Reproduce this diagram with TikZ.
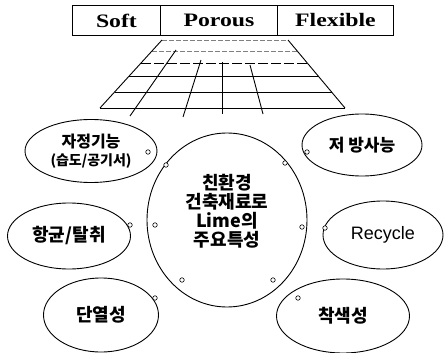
\documentclass[tikz,border=0pt]{standalone}
\usepackage{fontspec}
\usetikzlibrary{shapes.geometric}
\newfontfamily\kr{Noto Sans CJK KR}
\newfontfamily\boxfont{Liberation Serif}
\newfontfamily\lat{Liberation Sans}
\tikzset{
  topbox/.style={draw, line width=0.9pt, rectangle, minimum height=30pt, inner sep=0pt,
    font=\boxfont\bfseries\fontsize{19}{20}\selectfont, anchor=north west},
  oval/.style={draw, line width=0.9pt, ellipse, inner sep=0pt, align=center,
    font=\kr\bfseries\fontsize{18}{19}\selectfont},
  label/.style={inner sep=0pt, align=center, font=\kr\bfseries\fontsize{18}{19}\selectfont},
  dot/.style={draw, line width=0.6pt, circle, fill=white, minimum size=4.5pt, inner sep=0pt},
  gridline/.style={line width=0.9pt},
  faint/.style={line width=0.6pt, gray, dash pattern=on 5pt off 2pt}
}
\begin{document}
\begin{tikzpicture}[x=1pt,y=-1pt]
\useasboundingbox (0,0) rectangle (445,353);
% top boxes
\node[topbox, minimum width=88pt] (soft) at (72,5) {\scalebox{1.25}[1]{Soft}};
\node[topbox, minimum width=117pt] (porous) at (160,5) {\scalebox{1.25}[1]{Porous}};
\node[topbox, minimum width=116pt] (flex) at (277,5) {\scalebox{1.25}[1]{Flexible}};
% perspective grid
\draw[faint] (162,40) -- (288,40);
\draw[faint] (152,51) -- (297,51);
\draw[gridline, dash pattern=on 10pt off 3pt] (141,63) -- (308,63);
\draw[gridline] (129,76) -- (319,76);
\draw[gridline] (115,92) -- (332,92);
\draw[gridline] (100,108) -- (345,108);
\draw[gridline] (162,40) -- (100,108);
\draw[gridline] (288,40) -- (345,108);
\draw[gridline] (176,50) -- (130,116);
\draw[gridline] (201,60) -- (183,117);
\draw[gridline] (222,62) -- (222,114);
\draw[gridline] (250,65) -- (263,114);
% ellipses
\node[oval, minimum width=160pt, minimum height=174pt] (center) at (227,220) {};
\node[label] (ctext) at (227,211) {친환경\\건축재료로\\Lime의\\주요특성};
\node[oval, minimum width=132pt, minimum height=63pt, font=\kr\bfseries\fontsize{16}{18}\selectfont] (self) at (91,151)
  {자정기능\\{\fontsize{14}{15}\selectfont (습도/공기서)}};
\node[oval, minimum width=120pt, minimum height=62pt, font=\kr\bfseries\fontsize{17}{18}\selectfont] (rad) at (362,145) {저 방사능};
\node[oval, minimum width=123pt, minimum height=66pt] (anti) at (69,236) {항균/탈취};
\node[oval, minimum width=120pt, minimum height=68pt, font=\lat\fontsize{18}{19}\selectfont] (recy) at (383,235) {Recycle};
\node[oval, minimum width=115pt, minimum height=74pt] (insul) at (101,315) {단열성};
\node[oval, minimum width=133pt, minimum height=74pt] (color) at (343,316) {착색성};
% connector dots
\node[dot] (d1) at (148,152) {};
\node[dot] (d2) at (166,165) {};
\node[dot] (d3) at (307,152) {};
\node[dot] (d4) at (285,163) {};
\node[dot] (d5) at (130,225) {};
\node[dot] (d6) at (155,225) {};
\node[dot] (d7) at (302,227) {};
\node[dot] (d8) at (325,228) {};
\node[dot] (d9) at (182,280) {};
\node[dot] (d10) at (155,298) {};
\node[dot] (d11) at (273,280) {};
\node[dot] (d12) at (298,298) {};
\end{tikzpicture}
\end{document}
